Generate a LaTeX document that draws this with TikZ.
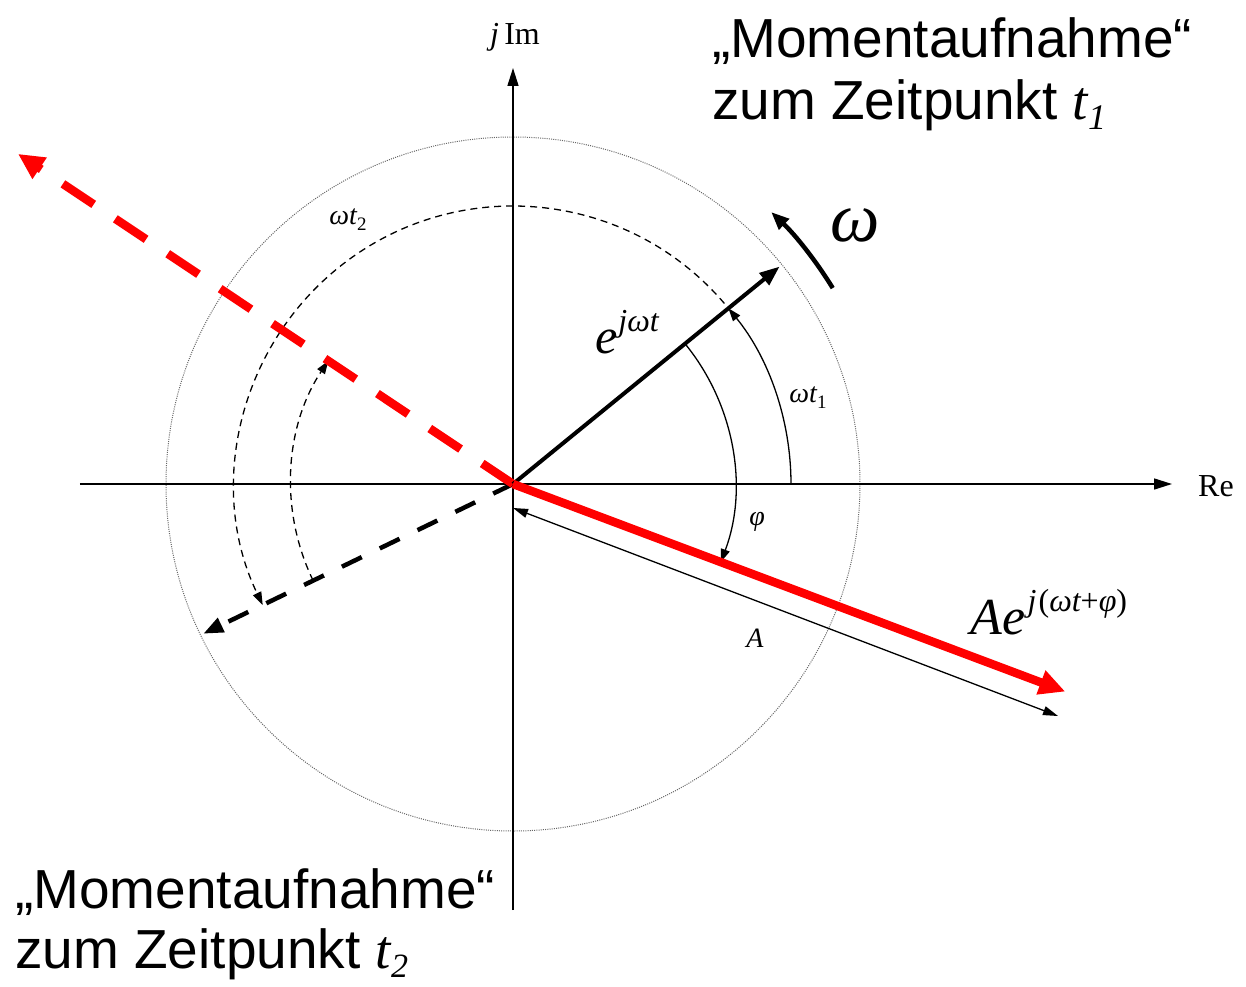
\documentclass[tikz,border=0pt]{standalone}
\usepackage{fontspec}
\setmainfont{Liberation Serif}
\newfontfamily\sansfam{Liberation Sans}
\usetikzlibrary{arrows.meta}
\definecolor{phred}{RGB}{255,0,0}
\newcommand\fsz[1]{\fontsize{#1}{#1}\selectfont}
\begin{document}
\begin{tikzpicture}[x=1pt,y=1pt,
  axis/.style={line width=1.6pt,-{Triangle[length=18pt,width=11pt]}},
  thinarc/.style={line width=1.3pt,-{Triangle[length=13pt,width=9pt]}},
  dasharc/.style={thinarc,dash pattern=on 7pt off 5pt},
  phasor/.style={line width=4pt,-{Triangle[length=20pt,width=15pt]}},
  redphasor/.style={phred,line width=8.5pt,-{Triangle[length=26pt,width=24pt]}},
  lbl/.style={inner sep=0pt},
  bigtxt/.style={inner sep=0pt,anchor=base west,font=\sansfam\fsz{55}}]
\useasboundingbox (-513,-502) rectangle (733,484);
\coordinate (O) at (0,0);
% outer dotted circle
\draw[gray!80!black,line width=1pt,dash pattern=on 1pt off 1.2pt] (O) circle (347);
% axes
\coordinate (Xl) at (-433,0);
\coordinate (Xr) at (659,0);
\coordinate (Yb) at (0,-426);
\coordinate (Yt) at (0,416);
\draw[axis] (Xl) -- (Xr);
\draw[axis] (Yb) -- (Yt);
\node[lbl,font=\fsz{32}] (re) at (703,-2) {Re};
\node[lbl,font=\fsz{32}] (im) at (2,447) {\itshape j\,\upshape Im};
% phasor end points
\coordinate (Et) at (39.2:344);
\coordinate (Rt) at (-20.6:590);
\coordinate (RDt) at (146.3:595);
\coordinate (BDt) at (205.8:344);
% angle arcs
\coordinate (w1s) at (0:278);
\draw[thinarc] (w1s) arc[start angle=0,end angle=39.2,radius=278];
\coordinate (w2s) at (40.5:278);
\draw[dasharc] (w2s) arc[start angle=40.5,end angle=205.8,radius=278];
\coordinate (p2s) at (205.8:222);
\draw[dasharc] (p2s) arc[start angle=205.8,end angle=146.3,radius=222];
\coordinate (p1s) at (39.2:222);
\draw[thinarc] (p1s) arc[start angle=39.2,end angle=-20.6,radius=222];
% omega rotation arrow
\coordinate (oms) at (31.5:375);
\draw[line width=4.5pt,-{Triangle[length=18pt,width=14pt]}] (oms) arc[start angle=31.5,end angle=46.5,radius=375];
% amplitude arrow
\coordinate (As) at (0,-24);
\coordinate (Ae) at (545,-232);
\draw[line width=1.3pt,{Triangle[length=15pt,width=9pt]}-{Triangle[length=15pt,width=9pt]}] (As) -- (Ae);
% phasors
\draw[phasor,dash pattern=on 22pt off 20pt,-{Triangle[length=20pt,width=15pt]},line width=4.5pt] (O) -- (BDt);
\draw[redphasor,dash pattern=on 37pt off 26pt] (O) -- (RDt);
\draw[phasor] (O) -- (Et);
\draw[redphasor] (O) -- (Rt);
% labels
\node[lbl] (lom) at (342,259) {\fsz{70}\itshape ω};
\node[lbl] (lE) at (114,152) {\fsz{50}\itshape e\kern1pt\raisebox{22pt}{\fsz{32}jωt}};
\node[lbl] (lw1) at (295,86) {\fsz{28}\itshape ωt\raisebox{-6pt}{\fsz{19}\upshape 1}};
\node[lbl] (lw2) at (-165,264) {\fsz{28}\itshape ωt\raisebox{-6pt}{\fsz{19}\upshape 2}};
\node[lbl] (lphi) at (244,-38) {\fsz{28}\itshape φ};
\node[lbl] (lA) at (242,-154) {\fsz{28}\itshape A};
\node[lbl] (lAe) at (536,-128) {\fsz{52}\itshape Ae\kern2pt\raisebox{23pt}{\fsz{32}j\kern2pt\upshape(\itshape ωt\upshape+\itshape φ\upshape)}};
% captions
\node[bigtxt] (t1a) at (199,426) {„Momentaufnahme“};
\node[bigtxt] (t1b) at (199,364) {zum Zeitpunkt {\rmfamily\itshape t\raisebox{-10pt}{\fsz{36}1}}};
\node[bigtxt] (t2a) at (-498,-424) {„Momentaufnahme“};
\node[bigtxt] (t2b) at (-498,-484) {zum Zeitpunkt {\rmfamily\itshape t\raisebox{-9pt}{\fsz{34}2}}};
\end{tikzpicture}
\end{document}
